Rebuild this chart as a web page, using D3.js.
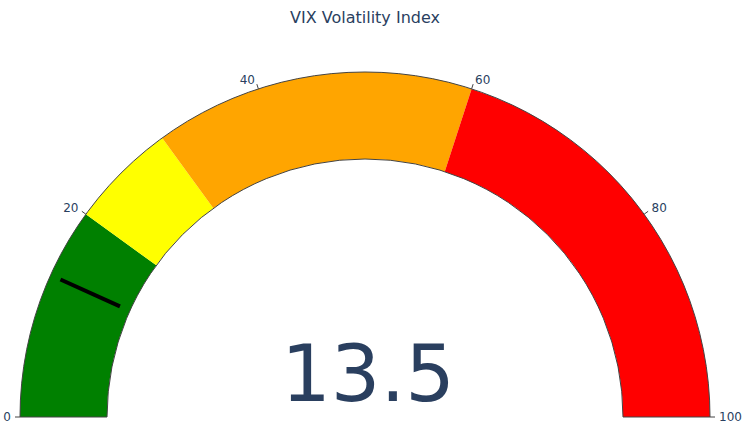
<!DOCTYPE html>
<html><head><meta charset="utf-8">
<script src="https://cdn.jsdelivr.net/npm/d3@7"></script>
<style>body{margin:0;background:#fff}svg{display:block}text{font-family:"DejaVu Sans",Verdana,sans-serif}</style>
</head><body><svg id="c" width="747" height="438"></svg>
<script>
const title = "VIX Volatility Index";
const value = 13.5;
const rangeMin = 0, rangeMax = 100;
const stepStarts = [0, 20, 30, 60];
const stepEnds = [20, 30, 60, 100];
const stepColors = ["green", "yellow", "orange", "red"];
const tickValues = [0, 20, 40, 60, 80, 100];
const thresholdValue = 13.5;

const svg = d3.select("#c");
const cx = 365, cy = 417, rOuter = 345, rInner = 258;
const ang = d3.scaleLinear().domain([rangeMin, rangeMax]).range([-Math.PI/2, Math.PI/2]);
const g = svg.append("g").attr("transform", `translate(${cx},${cy})`);

stepStarts.forEach((s, i) => {
  g.append("path")
    .attr("d", d3.arc().innerRadius(rInner).outerRadius(rOuter).startAngle(ang(s)).endAngle(ang(stepEnds[i]))())
    .attr("fill", stepColors[i]);
});
g.append("path")
  .attr("d", d3.arc().innerRadius(rInner).outerRadius(rOuter).startAngle(ang(rangeMin)).endAngle(ang(rangeMax))())
  .attr("fill", "none").attr("stroke", "#444").attr("stroke-width", 1);

const th = ang(thresholdValue);
const thick = rOuter - rInner, mid = (rOuter + rInner) / 2, half = thick * 0.75 / 2;
g.append("line")
  .attr("x1", (mid - half) * Math.sin(th)).attr("y1", -(mid - half) * Math.cos(th))
  .attr("x2", (mid + half) * Math.sin(th)).attr("y2", -(mid + half) * Math.cos(th))
  .attr("stroke", "black").attr("stroke-width", 4);

tickValues.forEach(t => {
  const a = ang(t), sx = Math.sin(a), sy = -Math.cos(a);
  g.append("line")
    .attr("x1", rOuter * sx).attr("y1", rOuter * sy)
    .attr("x2", (rOuter + 5) * sx).attr("y2", (rOuter + 5) * sy)
    .attr("stroke", "#444").attr("stroke-width", 1);
  const rl = rOuter + 8;
  const lx = rl * sx, ly = rl * sy;
  let anchor = "middle";
  if (sx < -0.3) anchor = "end"; else if (sx > 0.3) anchor = "start";
  g.append("text").attr("x", lx + (anchor==="end"? -1 : anchor==="start"? 1 : 0))
    .attr("y", ly).attr("dy", Math.abs(sx) > 0.95 ? "0.35em" : "0.2em")
    .attr("text-anchor", anchor).attr("fill", "#2a3f5f").attr("font-size", 12).text(t);
});

svg.append("text").attr("x", cx + 3).attr("y", 401).attr("text-anchor", "middle")
  .attr("fill", "#2a3f5f").attr("font-size", 78).text(value);

svg.append("text").attr("x", cx).attr("y", 23).attr("text-anchor", "middle")
  .attr("fill", "#2a3f5f").attr("font-size", 16).text(title);
</script></body></html>
